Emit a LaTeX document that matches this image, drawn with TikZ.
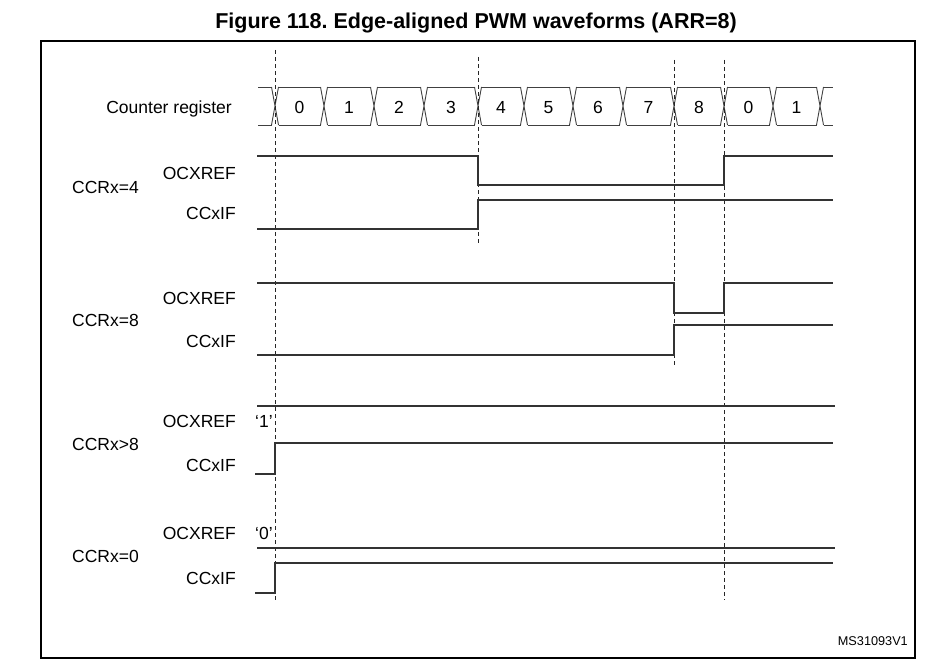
\documentclass[tikz,border=0pt]{standalone}
\usepackage{fontspec}
\setmainfont{Liberation Sans}
\usepackage{tikz}
\usetikzlibrary{positioning}
\usetikzlibrary{calc}
\frenchspacing

\tikzset{
    wave/.style={draw=black!80, line width=1.1pt},
    bus/.style={draw=black!75, line width=0.9pt},
    guide/.style={draw=black!85, dash pattern=on 4pt off 3pt, line width=0.8pt},
    sig/.style={font=\fontsize{17.5}{20}\selectfont, anchor=east, inner sep=0pt, text depth=0pt},
    grp/.style={font=\fontsize{17.5}{20}\selectfont, anchor=west, inner sep=0pt, text depth=0pt},
    cell/.style={font=\fontsize{17.5}{20}\selectfont, inner sep=0pt, text depth=0pt},
}

\begin{document}
\begin{tikzpicture}[x=1pt, y=-1pt]
    \useasboundingbox (0,0) rectangle (952,669);

    \node[font=\bfseries\fontsize{21.5}{24}\selectfont, inner sep=0pt, text depth=0pt] (title) at (476,21) {Figure 118. Edge-aligned PWM waveforms (ARR=8)};
    \draw[line width=2pt] (41,41) rectangle (915,658);

    % counter register
    \node[sig, anchor=east] (cnt) at (232,107) {Counter register};
    \foreach \a/\b/\v in {275/324/0, 324/374/1, 374/424/2, 424/478/3, 478/524/4, 524/573/5, 573/623/6, 623/674/7, 674/724/8, 724/773/0, 773/820/1} {
        \draw[bus] (\a-3.5,87) -- (\a+3.5,125) (\a-3.5,125) -- (\a+3.5,87);
        \draw[bus] (\a+3.5,87) -- (\b-3.5,87) (\a+3.5,125) -- (\b-3.5,125);
        \node[cell] (c\a) at ({(\a+\b)/2},107) {\v};
    }
    \draw[bus] (820-3.5,87) -- (820+3.5,125) (820-3.5,125) -- (820+3.5,87);
    \draw[bus] (258,87) -- (271.5,87) (258,125) -- (271.5,125);
    \draw[bus] (823.5,87) -- (833,87) (823.5,125) -- (833,125);

    % guides
    \draw[guide] (275,50) -- (275,600);
    \draw[guide] (478,57) -- (478,243);
    \draw[guide] (674,60) -- (674,365);
    \draw[guide] (724,60) -- (724,600);

    % CCRx=4
    \node[grp] (g4) at (72,187) {CCRx=4};
    \node[sig] (r4) at (236,173) {OCXREF};
    \node[sig] (f4) at (236,213) {CCxIF};
    \draw[wave] (257,156) -- (478,156) -- (478,185) -- (724,185) -- (724,156) -- (833,156);
    \draw[wave] (257,229) -- (478,229) -- (478,200) -- (833,200);

    % CCRx=8
    \node[grp] (g8) at (72,320) {CCRx=8};
    \node[sig] (r8) at (236,298) {OCXREF};
    \node[sig] (f8) at (236,341) {CCxIF};
    \draw[wave] (257,283) -- (674,283) -- (674,313) -- (724,313) -- (724,283) -- (833,283);
    \draw[wave] (257,355) -- (674,355) -- (674,325) -- (833,325);

    % CCRx>8
    \node[grp] (gh) at (72,444) {CCRx>8};
    \node[sig] (rh) at (236,421) {OCXREF};
    \node[sig] (fh) at (236,465) {CCxIF};
    \node[cell, right=19pt of rh] (one) {‘1’};
    \draw[wave] (257,406) -- (835,406);
    \draw[wave] (255,474) -- (275,474) -- (275,443) -- (833,443);

    % CCRx=0
    \node[grp] (g0) at (72,556) {CCRx=0};
    \node[sig] (r0) at (236,533) {OCXREF};
    \node[sig] (f0) at (236,578) {CCxIF};
    \node[cell, right=19pt of r0] (zero) {‘0’};
    \draw[wave] (257,548) -- (835,548);
    \draw[wave] (255,593) -- (275,593) -- (275,563) -- (833,563);

    \node[sig, font=\fontsize{12.7}{15}\selectfont] (code) at (908,641) {MS31093V1};
\end{tikzpicture}
\end{document}
